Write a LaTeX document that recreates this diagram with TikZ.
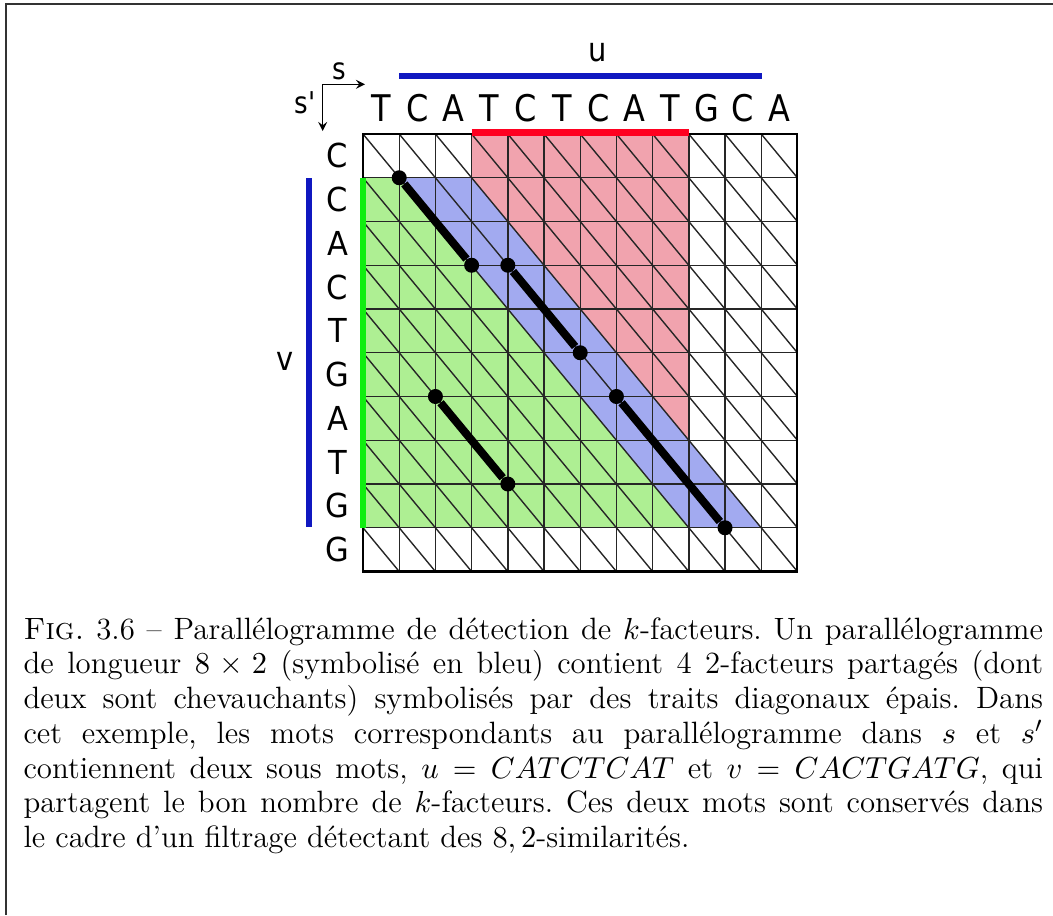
\documentclass[tikz,border=0pt]{standalone}
\usepackage{fontspec}
\newfontfamily\dejavu[Ligatures=TeXOff]{DejaVu Sans}
\definecolor{pinkzone}{RGB}{241,163,174}
\definecolor{bluezone}{RGB}{162,170,240}
\definecolor{greenzone}{RGB}{174,239,147}
\definecolor{barblue}{RGB}{16,24,192}
\definecolor{barred}{RGB}{255,0,32}
\definecolor{bargreen}{RGB}{16,238,16}

\begin{document}
\begin{tikzpicture}[x=0.36pt, y=-0.36pt,
    colletter/.style={font=\dejavu\fontsize{11.5}{13}\selectfont, yscale=1.15, inner sep=0pt},
    rowletter/.style={font=\dejavu\fontsize{11}{13}\selectfont, yscale=1.08, inner sep=0pt},
    wordlabel/.style={font=\dejavu\fontsize{10.4}{12}\selectfont, yscale=1.15, inner sep=0pt},
    axislabel/.style={font=\dejavu\fontsize{9.4}{11}\selectfont, yscale=1.15, inner sep=0pt},
    gridline/.style={black!85, line width=0.5pt},
    kdot/.style={circle, fill=black, inner sep=0pt, minimum size=5.4pt},
    kfact/.style={black, line width=2.9pt},
    bar/.style={line width=2.5pt}]

  \useasboundingbox (0,0) rectangle (1053,915);

  % frame (only top and left edges show)
  \draw[black!80, line width=0.4pt] (6,915) -- (6,4) -- (1053,4);

  %% ===== DOT-PLOT GRID =====
  \begin{scope}[shift={(363,134)}, x=13.032pt, y=-15.75pt]

    % Coloured zones
    \fill[pinkzone] (3,0) -- (9,0) -- (9,7) -- (3,1) -- cycle;
    \fill[greenzone] (0,1) -- (1,1) -- (9,9) -- (0,9) -- cycle;
    \fill[bluezone] (1,1) -- (3,1) -- (11,9) -- (9,9) -- cycle;

    % Cells and their diagonals
    \foreach \i in {1,...,11}
      \draw[gridline] (\i,0) -- (\i,10);
    \foreach \j in {1,...,9}
      \draw[gridline] (0,\j) -- (12,\j);
    \foreach \i in {0,...,11}
      \foreach \j in {0,...,9}
        \draw[gridline] (\i,\j) -- ++(1,1);
    \draw[black, line width=0.75pt] (0,0) rectangle (12,10);

    % Sequence s (top) and s' (left)
    \foreach \c [count=\i from 0] in {T,C,A,T,C,T,C,A,T,G,C,A}
      \node[colletter, anchor=base] (col\i) at (\i+0.5,-0.28) {\c};
    \foreach \c [count=\j from 0] in {C,C,A,C,T,G,A,T,G,G}
      \node[rowletter] (row\j) at (-0.7,\j+0.5) {\c};

    % Projections of the parallelogram
    \draw[barred, bar] (3,-0.03) -- (9,-0.03);
    \draw[bargreen, bar] (0,1) -- (0,9);

    % Shared 2-factors
    \node[kdot] (fa1) at (1,1) {};
    \node[kdot] (fa2) at (3,3) {};
    \node[kdot] (fb1) at (4,3) {};
    \node[kdot] (fb2) at (6,5) {};
    \node[kdot] (fc1) at (7,6) {};
    \node[kdot] (fc2) at (10,9) {};
    \node[kdot] (fd1) at (2,6) {};
    \node[kdot] (fd2) at (4,8) {};
    \draw[kfact] (fa1) -- (fa2);
    \draw[kfact] (fb1) -- (fb2);
    \draw[kfact] (fc1) -- (fc2);
    \draw[kfact] (fd1) -- (fd2);
  \end{scope}

  %% ===== WORDS u AND v =====
  \draw[barblue, bar] (399.4,76) -- (761.6,76);
  \node[wordlabel, anchor=base] (ulabel) at (598,61.7) {u};
  \draw[barblue, bar] (309,178) -- (309,527);
  \node[wordlabel, anchor=base] (vlabel) at (284.7,370) {v};

  % Axes s and s'
  \coordinate (axo) at (322.7,84.3);
  \coordinate (axs) at (365,84.3);
  \coordinate (axsp) at (322.7,131);
  \draw[-stealth, line width=0.45pt] (axo) -- (axs);
  \draw[-stealth, line width=0.45pt] (axo) -- (axsp);
  \node[axislabel, anchor=base] (slabel) at (339,79.3) {s};
  \node[axislabel, anchor=base] (splabel) at (305,113.3) {s'};

  %% ===== CAPTION =====
  \node[anchor=north west, text width=367pt, inner sep=0pt, align=justify,
        font=\fontsize{11.1}{12.5}\selectfont\frenchspacing] (caption) at (23,617)
    {\textsc{Fig.}~3.6 -- Parallélogramme de détection de $k$-facteurs. Un parallélogramme\linebreak
     de longueur $8\times2$ (symbolisé en bleu) contient 4 2-facteurs partagés (dont\linebreak
     deux sont chevauchants) symbolisés par des traits diagonaux épais. Dans\linebreak
     cet exemple, les mots correspondants au parallélogramme dans $s$ et $s'$\linebreak
     contiennent deux sous mots, $u=CATCTCAT$ et $v=CACTGATG$, qui\linebreak
     partagent le bon nombre de $k$-facteurs. Ces deux mots sont conservés dans\linebreak
     le cadre d'un filtrage détectant des $8,2$-similarités.};

\end{tikzpicture}
\end{document}
